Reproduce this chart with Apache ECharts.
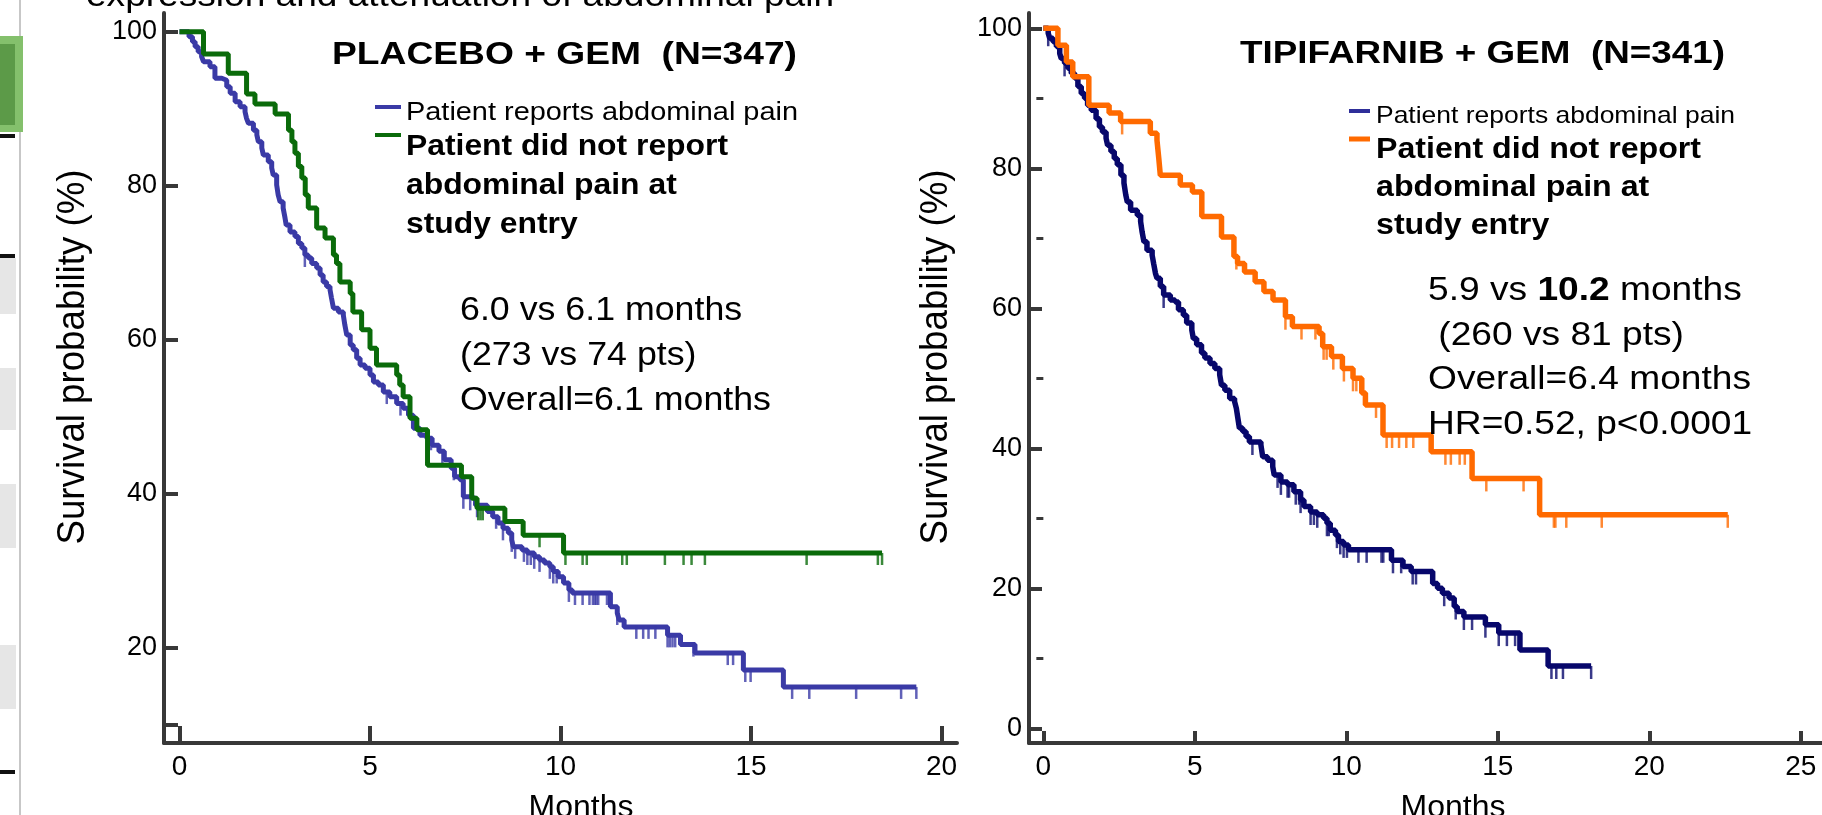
<!DOCTYPE html>
<html><head><meta charset="utf-8">
<script src="https://cdn.jsdelivr.net/npm/echarts@6/dist/echarts.min.js"></script>
<style>html,body{margin:0;padding:0;background:#fff;overflow:hidden}#c{width:1822px;height:815px}</style>
</head><body><div id="c"></div>
<script>
// ---------- DATA ----------
// Placebo + GEM : patient reports abdominal pain (blue)
const placeboPainT = [0,0.25,0.34,0.41,0.49,0.58,0.63,0.80,0.93,1.11,1.24,1.33,1.46,1.59,1.72,1.76,1.81,1.94,2.03,2.07,2.16,2.20,2.33,2.42,2.46,2.55,2.59,2.64,2.72,2.77,2.80,2.90,3.03,3.12,3.21,3.29,3.38,3.47,3.60,3.69,3.77,3.86,3.95,3.99,4.04,4.17,4.30,4.34,4.39,4.48,4.56,4.65,4.74,4.87,5.00,5.09,5.22,5.35,5.52,5.70,5.87,6.01,6.14,6.31,6.49,6.63,6.81,6.95,7.13,7.22,7.36,7.45,7.63,7.77,8.08,8.22,8.36,8.49,8.63,8.72,8.76,8.99,9.13,9.31,9.45,9.58,9.72,9.81,9.94,10.08,10.22,10.31,11.31,11.49,11.54,11.67,12.81,13.15,13.53,14.80,15.85,19.34];
const placeboPainS = [100,99.35,98.7,98.06,97.4,96.76,96.1,95.46,93.95,93.7,92.86,92.0,90.9,90.26,89.6,88.75,88.1,87.2,86.6,85.7,84.9,84.0,83.1,82.3,81.4,80.1,78.8,77.9,77.1,75.8,74.9,74.0,73.4,72.5,71.9,71.0,70.6,69.9,69.3,68.4,67.5,66.9,66.5,65.4,64.1,63.6,63.2,61.9,60.6,59.3,58.7,57.6,56.7,56.3,55.4,54.5,54.1,53.2,52.6,51.7,51.1,50.2,48.5,47.6,47.2,46.3,45.5,44.4,43.3,42.2,41.8,39.6,39.4,38.5,37.7,37.0,36.2,35.5,34.9,34.0,33.1,32.7,32.3,31.8,31.4,31.0,30.5,29.9,29.2,28.4,27.5,27.1,25.3,24.5,23.6,22.7,21.6,20.4,19.3,17.1,14.9,14.9];
const placeboPainCens = [3.29,5.44,5.80,6.60,6.90,7.20,7.45,7.63,7.81,8.31,8.49,8.72,8.81,9.04,9.13,9.22,9.31,9.45,9.72,9.81,9.90,10.22,10.38,10.58,10.76,10.85,10.90,10.94,10.99,11.22,11.29,11.49,11.99,12.17,12.31,12.49,12.81,12.87,12.94,13.01,13.49,14.39,14.53,14.85,14.99,16.08,16.53,17.76,18.94,19.34];

// Placebo + GEM : did not report abdominal pain (green)
const placeboNoPainT = [0,0.63,1.28,1.76,1.98,2.51,2.86,2.95,3.03,3.12,3.21,3.30,3.38,3.60,3.82,4.04,4.12,4.21,4.48,4.55,4.78,5.00,5.17,5.70,5.78,5.87,6.05,6.23,6.51,7.40,7.67,7.81,8.54,9.02,10.08,18.44];
const placeboNoPainS = [100,97.1,94.6,91.9,90.6,89.3,87.2,85.7,84.2,82.5,81.0,78.8,77.1,74.5,73.2,71.0,69.9,67.5,66.0,63.6,61.3,58.9,56.7,55.4,54.1,52.6,49.8,48.3,43.7,42.2,39.4,38.1,36.4,34.6,32.3,32.3];
const placeboNoPainCens = [7.84,7.90,7.96,9.45,10.13,10.58,10.69,11.62,11.74,12.74,13.23,13.44,13.79,16.46,18.33,18.44];

// Tipifarnib + GEM : patient reports abdominal pain (navy)
const tipiPainT = [0,0.16,0.21,0.32,0.43,0.54,0.59,0.70,0.81,0.92,1.03,1.14,1.25,1.36,1.46,1.58,1.74,1.85,1.95,2.07,2.12,2.23,2.34,2.44,2.56,2.66,2.72,2.77,2.88,3.10,3.21,3.26,3.32,3.42,3.59,3.64,3.70,3.75,3.86,3.97,4.19,4.35,4.46,4.62,4.73,4.90,4.95,5.06,5.22,5.33,5.50,5.66,5.82,5.88,5.99,6.15,6.31,6.37,6.42,6.47,6.58,6.69,6.80,7.18,7.24,7.40,7.57,7.62,7.84,8.06,8.27,8.49,8.60,8.82,9.04,9.25,9.36,9.47,9.64,9.74,9.91,10.07,11.49,11.87,12.14,12.85,13.01,13.17,13.39,13.56,13.66,13.88,14.59,15.03,15.73,16.66,18.08];
const tipiPainS = [100,99.3,98.6,98.1,97.4,96.4,95.7,95.0,94.3,93.6,92.9,91.7,90.7,90.0,89.0,88.3,87.1,85.9,85.2,84.3,83.3,82.4,81.4,80.5,79.0,77.9,76.2,75.2,74.0,73.3,72.4,70.9,69.5,68.3,67.6,66.4,65.0,64.3,63.1,61.9,61.2,60.9,59.8,59.0,57.9,56.9,55.7,54.8,53.6,52.9,52.1,51.4,50.5,49.0,48.3,47.1,46.7,45.7,44.3,42.9,42.4,41.7,40.9,40.5,38.8,38.3,37.4,36.2,35.2,34.8,33.8,32.6,31.7,30.9,30.5,30.0,29.3,28.3,27.6,26.7,26.2,25.5,24.0,23.1,22.4,20.7,20.0,19.3,18.6,17.4,16.7,15.9,14.8,13.6,11.2,8.9,8.9];
const tipiPainCens = [0.16,0.70,3.97,6.40,6.90,7.73,7.84,8.06,8.11,8.33,8.44,8.49,8.82,8.93,9.04,9.36,9.42,9.69,9.80,9.91,10.02,10.40,10.67,11.16,11.22,11.54,11.81,12.19,12.30,13.23,13.61,13.88,14.15,14.59,15.03,15.30,15.57,16.77,16.93,17.15,18.08];

// Tipifarnib + GEM : did not report abdominal pain (orange)
const tipiNoPainT = [0,0.48,0.76,0.97,1.50,2.17,2.55,3.53,3.75,3.81,3.86,4.52,4.92,5.23,5.88,6.29,6.41,6.64,6.99,7.28,7.58,7.99,8.22,9.10,9.22,9.51,9.87,10.22,10.51,10.63,11.21,12.80,14.15,16.38,22.59];
const tipiNoPainS = [100,97.6,95.2,93.1,89.0,87.9,86.7,85.0,84.0,81.4,79.0,77.6,76.6,73.1,70.2,67.4,66.4,65.2,63.8,62.4,61.2,58.8,57.4,56.4,54.5,53.1,51.4,50.0,47.9,46.2,41.9,39.5,35.7,30.5,30.5];
const tipiNoPainCens = [2.60,6.37,7.99,8.52,8.98,9.25,9.35,9.57,9.92,10.22,10.33,10.98,11.33,11.51,11.74,11.98,12.21,13.27,13.45,13.74,13.91,14.62,15.85,16.85,16.90,17.26,18.43,22.59];

// Tick labels
const leftXTicks = [0,5,10,15,20];
const leftYTicks = [10,20,40,60,80,100];
const leftYLabels = [20,40,60,80,100];
const rightXTicks = [0,5,10,15,20,25];
const rightYTicks = [0,20,40,60,80,100];
const rightYMinorTicks = [10,30,50,70,90];

// Texts
const topText = 'expression and attenuation of abdominal pain';
const leftTitle = 'PLACEBO + GEM  (N=347)';
const rightTitle = 'TIPIFARNIB + GEM  (N=341)';
const legendPain = 'Patient reports abdominal pain';
const legendNoPain = ['Patient did not report','abdominal pain at','study entry'];
const leftNotes = ['6.0 vs 6.1 months','(273 vs 74 pts)','Overall=6.1 months'];
const rightNotes = ['5.9 vs {b|10.2} months',' (260 vs 81 pts)','Overall=6.4 months','HR=0.52, p<0.0001'];
const yName = 'Survival probability (%)';
const xName = 'Months';

// ---------- HELPERS ----------
const FONT = 'Liberation Sans';
const C_BLUE = '#3a3aa6', C_GREEN = '#0a6b0a', C_NAVY = '#07076b', C_ORANGE = '#ff6a00', C_AXIS = '#383838';
function steps(T,S){const n=Math.min(T.length,S.length);const o=[];for(let i=0;i<n;i++)o.push([T[i],S[i]]);return o;}
function stepAt(T,S,t){let v=S[0];for(let i=0;i<T.length;i++){if(T[i]<=t+1e-9)v=S[i];else break;}return v;}
function cens(T,S,C){return C.map(t=>[t,stepAt(T,S,t)]);}
const mctx=document.createElement('canvas').getContext('2d');
function tw(text,size,weight){mctx.font=(weight||'normal')+' '+size+'px "'+FONT+'"';return mctx.measureText(text).width;}
function txt(x,y,text,size,weight,sx,extra){
  const el={type:'text',x:x,y:y,scaleX:sx||1,z:100,silent:true,
    style:{text:text,x:0,y:0,fontSize:size,fontWeight:weight||'normal',fontFamily:FONT,fill:'#000',align:'left',verticalAlign:'middle'}};
  if(extra)Object.assign(el,extra);
  return el;
}
function hline(x1,x2,y,color,w){return {type:'line',z:100,silent:true,shape:{x1:x1,y1:y,x2:x2,y2:y},style:{stroke:color,lineWidth:w}};}
function rect(x,y,w,h,fill){return {type:'rect',z:100,silent:true,shape:{x:x,y:y,width:w,height:h},style:{fill:fill}};}

// ---------- GRAPHICS ----------
const g=[];
// left slide strip
g.push({type:'line',z:100,silent:true,shape:{x1:20,y1:0,x2:20,y2:815},style:{stroke:'#b4b4b4',lineWidth:1.5}});
g.push(rect(0,36,23,96,'#84c06c'));
g.push(rect(0,44,15,81,'#5c9a48'));
g.push(rect(0,134,15,4,'#111'));
g.push(rect(0,254,15,4,'#111'));
g.push(rect(0,770,15,4,'#111'));
[[258,314],[368,430],[484,548],[645,709]].forEach(r=>g.push(rect(0,r[0],16,r[1]-r[0],'#e6e6e6')));
// top clipped text
g.push(txt(86,-3.5,topText,33,'normal',748/tw(topText,33)));
// titles
g.push(txt(332,55,leftTitle,32,'bold',465/tw(leftTitle,32,'bold')));
g.push(txt(1240,54,rightTitle,32,'bold',485/tw(rightTitle,32,'bold')));
// left legend
g.push(hline(375,401,107,C_BLUE,4));
g.push(txt(406,113,legendPain,25,'normal',392/tw(legendPain,25)));
g.push(hline(375,401,135,C_GREEN,4));
const sxL=322/tw(legendNoPain[0],29,'bold');
legendNoPain.forEach((s,i)=>g.push(txt(406,147+i*39,s,29,'bold',sxL)));
// right legend
g.push(hline(1349,1370,111,'#2e2e99',4));
g.push(txt(1376,116,legendPain,24,'normal',359/tw(legendPain,24)));
g.push(hline(1349,1370,139,C_ORANGE,5));
const sxR=325/tw(legendNoPain[0],29,'bold');
legendNoPain.forEach((s,i)=>g.push(txt(1376,150+i*38,s,29,'bold',sxR)));
// left notes
const sxN1=311/tw(leftNotes[2],33);
leftNotes.forEach((s,i)=>g.push(txt(460,311+i*45,s,33,'normal',sxN1)));
// right notes
const sxN2=323/tw(rightNotes[2],33);
rightNotes.forEach((s,i)=>{
  const el=txt(1428,291+i*44.5,s,33,'normal',sxN2);
  el.style.rich={b:{fontWeight:'bold',fontSize:33,fontFamily:FONT,fill:'#000'}};
  g.push(el);
});
// axis names
const sxY=375/tw(yName,36);
[73,936].forEach(x=>g.push({type:'text',x:x,y:357,rotation:Math.PI/2,scaleX:sxY,scaleY:1.08,z:100,silent:true,
  style:{text:yName,x:0,y:0,fontSize:36,fontFamily:FONT,fill:'#000',align:'center',verticalAlign:'middle'}}));
[581,1453].forEach(x=>g.push({type:'text',x:x,y:808,z:100,silent:true,
  style:{text:xName,x:0,y:0,fontSize:32,fontFamily:FONT,fill:'#000',align:'center',verticalAlign:'middle'}}));

// ---------- AXES ----------
function xAx(grid,min,max,ticks,tlen){return {type:'value',gridIndex:grid,min:min,max:max,
  axisLine:{onZero:false,lineStyle:{color:C_AXIS,width:4}},
  axisTick:{inside:true,length:tlen,customValues:ticks,lineStyle:{color:C_AXIS,width:4}},
  axisLabel:{customValues:ticks,margin:10,fontSize:28,color:'#000',fontFamily:FONT},
  splitLine:{show:false}};}
function yAx(grid,min,max,ticks,labels,tlen){return {type:'value',gridIndex:grid,min:min,max:max,
  axisLine:{onZero:false,lineStyle:{color:C_AXIS,width:4}},
  axisTick:{inside:true,length:tlen,customValues:ticks,lineStyle:{color:C_AXIS,width:4}},
  axisLabel:{customValues:labels,margin:7,fontSize:27,color:'#000',fontFamily:FONT},
  splitLine:{show:false}};}

const option={
  animation:false,
  backgroundColor:'#fff',
  grid:[{left:164,top:13,width:793,height:730},{left:1029,top:13,width:801,height:730}],
  xAxis:[xAx(0,-0.407,20.407,leftXTicks,17),xAx(1,-0.474,25.70,rightXTicks,12)],
  yAxis:[yAx(0,7.62,102.43,leftYTicks,leftYLabels,14),yAx(1,-2.1,102.19,rightYTicks,rightYTicks,13),
    {type:'value',gridIndex:1,min:-2.1,max:102.19,axisLine:{show:false},axisLabel:{show:false},splitLine:{show:false},
     axisTick:{inside:true,length:7,customValues:rightYMinorTicks,lineStyle:{color:C_AXIS,width:3}}}],
  series:[
    {type:'line',xAxisIndex:0,yAxisIndex:0,step:'end',symbol:'none',data:steps(placeboPainT,placeboPainS),lineStyle:{color:C_BLUE,width:5},z:2},
    {type:'scatter',xAxisIndex:0,yAxisIndex:0,symbol:'rect',symbolSize:[2.5,12],symbolOffset:[0,6],data:cens(placeboPainT,placeboPainS,placeboPainCens),itemStyle:{color:C_BLUE},z:3,silent:true},
    {type:'line',xAxisIndex:0,yAxisIndex:0,step:'end',symbol:'none',data:steps(placeboNoPainT,placeboNoPainS),lineStyle:{color:C_GREEN,width:5},z:4},
    {type:'scatter',xAxisIndex:0,yAxisIndex:0,symbol:'rect',symbolSize:[2.5,12],symbolOffset:[0,6],data:cens(placeboNoPainT,placeboNoPainS,placeboNoPainCens),itemStyle:{color:C_GREEN},z:5,silent:true},
    {type:'line',xAxisIndex:1,yAxisIndex:1,step:'end',symbol:'none',data:steps(tipiPainT,tipiPainS),lineStyle:{color:C_NAVY,width:5.5},z:2},
    {type:'scatter',xAxisIndex:1,yAxisIndex:1,symbol:'rect',symbolSize:[2.5,13],symbolOffset:[0,6.5],data:cens(tipiPainT,tipiPainS,tipiPainCens),itemStyle:{color:C_NAVY},z:3,silent:true},
    {type:'line',xAxisIndex:1,yAxisIndex:1,step:'end',symbol:'none',data:steps(tipiNoPainT,tipiNoPainS),lineStyle:{color:C_ORANGE,width:5.5},z:4},
    {type:'scatter',xAxisIndex:1,yAxisIndex:1,symbol:'rect',symbolSize:[2.5,13],symbolOffset:[0,6.5],data:cens(tipiNoPainT,tipiNoPainS,tipiNoPainCens),itemStyle:{color:C_ORANGE},z:5,silent:true}
  ],
  graphic:g
};
const chart=echarts.init(document.getElementById('c'));
chart.setOption(option);
</script>
</body></html>
